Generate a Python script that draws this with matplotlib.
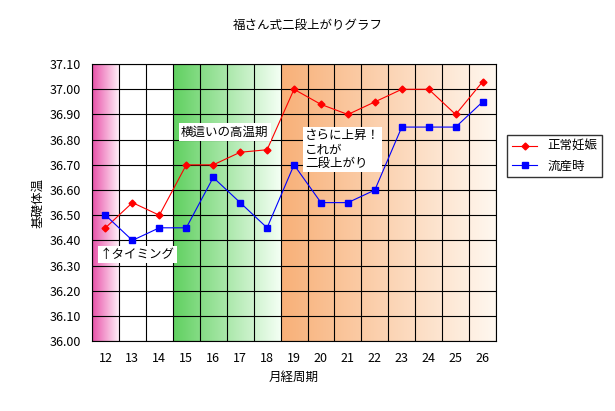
import matplotlib
matplotlib.use("Agg")
import matplotlib.pyplot as plt
import numpy as np
from matplotlib.colors import LinearSegmentedColormap

plt.rcParams['font.family'] = 'Noto Sans CJK JP'

days = [12,13,14,15,16,17,18,19,20,21,22,23,24,25,26]
normal = [36.45,36.55,36.50,36.70,36.70,36.75,36.76,37.00,36.94,36.90,36.95,37.00,37.00,36.90,37.03]
miscarriage = [36.50,36.40,36.45,36.45,36.65,36.55,36.45,36.70,36.55,36.55,36.60,36.85,36.85,36.85,36.95]
yticks = [36.0+0.1*i for i in range(12)]

fig = plt.figure(figsize=(6.15,4.11), dpi=100)
ax = fig.add_axes([0.1496,0.170,0.657,0.674])
x = np.arange(len(days))

def band(x0,x1,c0,c1):
    cm = LinearSegmentedColormap.from_list('g',[c0,c1])
    grad = np.linspace(0,1,256).reshape(1,-1)
    ax.imshow(grad,cmap=cm,aspect='auto',extent=[x0,x1,36.0,37.1],zorder=0)

band(-0.5,0.5,'#e850a8','#fff0f8')
band(2.5,6.5,'#60d060','#f4fff4')
band(6.5,14.5,'#f8b078','#fff8f0')
ax.set_xlim(-0.5,len(days)-0.5); ax.set_ylim(36.0,37.1)

for xi in np.arange(-0.5,len(days)):
    ax.axvline(xi,color='black',lw=0.8,zorder=1)
for yv in yticks:
    ax.axhline(yv,color='black',lw=0.8,zorder=1)

ax.plot(x,normal,color='red',marker='D',ms=3.5,lw=0.8,label='正常妊娠',zorder=3)
ax.plot(x,miscarriage,color='blue',marker='s',ms=4,lw=0.8,label='流産時',zorder=3)

ax.set_xticks(x); ax.set_xticklabels([str(d) for d in days],fontsize=9)
ax.set_yticks(yticks); ax.set_yticklabels([f"{v:.2f}" for v in yticks],fontsize=9)
ax.tick_params(length=0,pad=8)
for s in ax.spines.values(): s.set_color('black'); s.set_linewidth(0.8)
ax.set_xlabel('月経周期',fontsize=9)
ax.set_ylabel('基礎体温',fontsize=9)
fig.suptitle('福さん式二段上がりグラフ',fontsize=9,y=0.955)

box = dict(facecolor='white',edgecolor='none',pad=1.5)
ax.text(-0.2,36.345,'↑タイミング',fontsize=9,va='center',bbox=box,zorder=4)
ax.text(2.8,36.83,'横這いの高温期',fontsize=9,va='center',bbox=box,zorder=4)
ax.text(7.4,36.76,'さらに上昇！\nこれが\n二段上がり',fontsize=9,va='center',linespacing=1.1,bbox=box,zorder=4)

fig.legend(loc='center left',bbox_to_anchor=(0.815,0.62),fontsize=9,frameon=True,
           fancybox=False,edgecolor='black',handlelength=2)
fig.savefig('out.png',dpi=100)
